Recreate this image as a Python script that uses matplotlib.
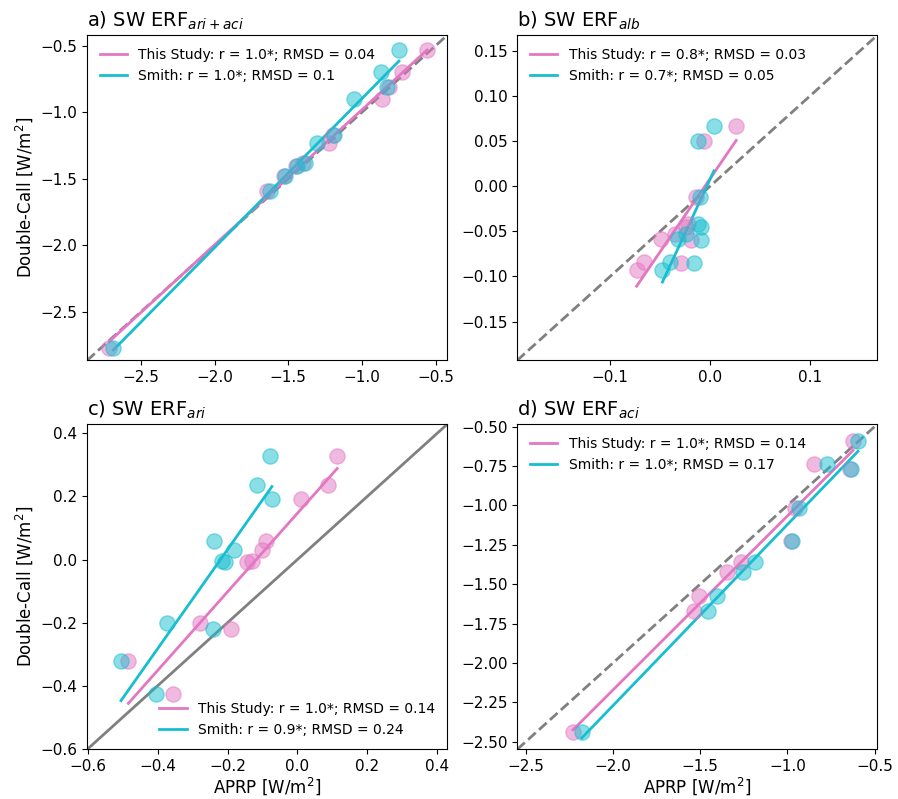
import numpy as np
import matplotlib
matplotlib.use("Agg")
from matplotlib import pyplot as plt

# double-call values are shared between both APRP estimates in each panel
dc_all = [-0.535, -0.700, -0.808, -0.900, -1.168, -1.228, -1.378, -1.402, -1.480, -1.588, -2.768]
aprp_study_all = [-0.557, -0.730, -0.815, -0.860, -1.197, -1.220, -1.400, -1.444, -1.530, -1.646, -2.714]
aprp_smith_all = [-0.748, -0.871, -0.827, -1.051, -1.186, -1.305, -1.388, -1.440, -1.523, -1.624, -2.687]

dc_alb = [0.0667, 0.0504, -0.0122, -0.0422, -0.0451, -0.0592, -0.0526, -0.0585, -0.0837, -0.0926, -0.0850]
aprp_study_alb = [0.0259, -0.0063, -0.0139, -0.0222, -0.0242, -0.0189, -0.0354, -0.0488, -0.0660, -0.0736, -0.0295]
aprp_smith_alb = [0.0037, -0.0122, -0.0106, -0.0122, -0.0090, -0.0090, -0.0239, -0.0321, -0.0404, -0.0478, -0.0165]

dc_ari = [0.328, 0.236, 0.193, 0.058, 0.029, -0.005, -0.007, -0.200, -0.220, -0.321, -0.425]
aprp_study_ari = [0.114, 0.088, 0.009, -0.091, -0.100, -0.131, -0.144, -0.279, -0.191, -0.484, -0.355]
aprp_smith_ari = [-0.079, -0.115, -0.073, -0.239, -0.181, -0.217, -0.206, -0.373, -0.241, -0.505, -0.406]

dc_aci = [-0.589, -0.737, -0.769, -1.018, -1.223, -1.361, -1.424, -1.575, -1.670, -2.442]
aprp_study_aci = [-0.624, -0.849, -0.643, -0.957, -0.977, -1.268, -1.344, -1.506, -1.538, -2.230]
aprp_smith_aci = [-0.595, -0.771, -0.634, -0.933, -0.971, -1.186, -1.257, -1.405, -1.453, -2.180]

titles = ["a) SW ERF$_{ari+aci}$", "b) SW ERF$_{alb}$", "c) SW ERF$_{ari}$", "d) SW ERF$_{aci}$"]
labels_study = ["This Study: r = 1.0*; RMSD = 0.04", "This Study: r = 0.8*; RMSD = 0.03",
                "This Study: r = 1.0*; RMSD = 0.14", "This Study: r = 1.0*; RMSD = 0.14"]
labels_smith = ["Smith: r = 1.0*; RMSD = 0.1", "Smith: r = 0.7*; RMSD = 0.05",
                "Smith: r = 0.9*; RMSD = 0.24", "Smith: r = 1.0*; RMSD = 0.17"]

panels = [
    (aprp_study_all, aprp_smith_all, dc_all),
    (aprp_study_alb, aprp_smith_alb, dc_alb),
    (aprp_study_ari, aprp_smith_ari, dc_ari),
    (aprp_study_aci, aprp_smith_aci, dc_aci),
]
limits = [(-2.865, -0.42), (-0.193, 0.167), (-0.602, 0.429), (-2.55, -0.484)]

pink = "#e377c2"
cyan = "#17becf"

fig, axes = plt.subplots(2, 2, figsize=(8.98, 7.99), dpi=100)
fig.subplots_adjust(left=0.097, right=0.977, bottom=0.062, top=0.956, wspace=0.194, hspace=0.196)

for i, ax in enumerate(axes.flat):
    xs, xm, y = panels[i]
    xs, xm, y = np.array(xs), np.array(xm), np.array(y)
    lo, hi = limits[i]

    # 1:1 line (solid in panel c)
    ls = "-" if i == 2 else "--"
    ax.plot([lo, hi], [lo, hi], color="gray", ls=ls, lw=2, zorder=1)

    ax.scatter(xs, y, s=120, color=pink, alpha=0.5, edgecolor=pink, lw=1, zorder=3)
    ax.scatter(xm, y, s=120, color=cyan, alpha=0.5, edgecolor=cyan, lw=1, zorder=3)

    # linear fits over each series' range
    for x, c, lab in [(xs, pink, labels_study[i]), (xm, cyan, labels_smith[i])]:
        m, b = np.polyfit(x, y, 1)
        xx = np.array([x.min(), x.max()])
        ax.plot(xx, m * xx + b, color=c, lw=2, label=lab, zorder=2)

    ax.set_xlim(lo, hi)
    ax.set_ylim(lo, hi)
    ax.set_title(titles[i], loc="left", fontsize=14)
    ax.tick_params(labelsize=11)
    loc = "lower right" if i == 2 else "upper left"
    ax.legend(loc=loc, fontsize=10, frameon=False)

axes[0, 0].set_ylabel("Double-Call [W/m$^2$]", fontsize=12)
axes[1, 0].set_ylabel("Double-Call [W/m$^2$]", fontsize=12)
axes[1, 0].set_xlabel("APRP [W/m$^2$]", fontsize=12, labelpad=1)
axes[1, 1].set_xlabel("APRP [W/m$^2$]", fontsize=12, labelpad=1)

plt.savefig("out.png", dpi=100)
